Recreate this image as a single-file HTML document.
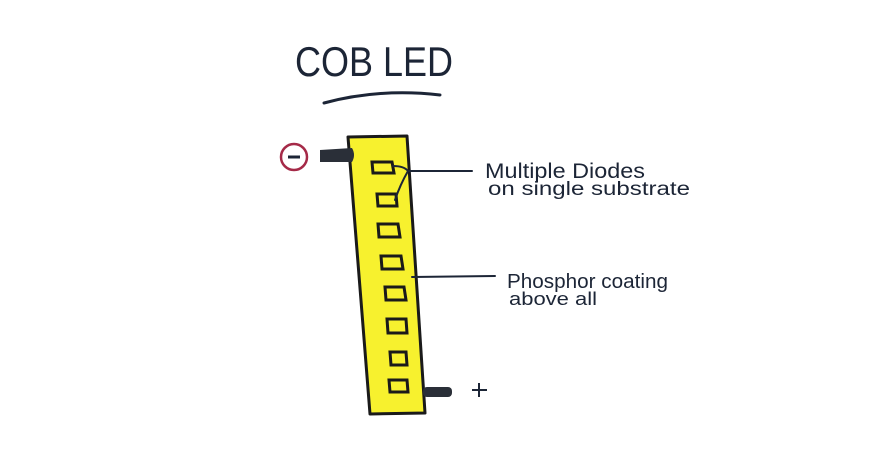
<!DOCTYPE html>
<html><head><style>
html,body{margin:0;padding:0;background:#fff;width:870px;height:473px;overflow:hidden}
svg text{font-family:"Liberation Sans",sans-serif;fill:#1c2536}
</style></head><body>
<svg width="870" height="473" viewBox="0 0 870 473">
<text x="295" y="76" font-size="42" textLength="158" lengthAdjust="spacingAndGlyphs">COB LED</text>
<path d="M324 103 Q380 88 440 95" stroke="#1c2536" stroke-width="3" fill="none" stroke-linecap="round"/>
<polygon points="348,137 407,136 425,413 370,414" fill="#f7f12e" stroke="#1a1a1a" stroke-width="3" stroke-linejoin="round"/>
<g fill="none" stroke="#1a1a1a" stroke-width="3">
<polygon points="372,162 392,162 394,173 373,173"/>
<polygon points="377,194 396,194 397,206 378,206"/>
<polygon points="378,224 398,224 400,237 379,237"/>
<polygon points="381,256 401,256 403,269 382,269"/>
<polygon points="385,287 404,287 406,300 386,300"/>
<polygon points="387,319 406,319 407,333 388,333"/>
<polygon points="390,352 406,352 407,365 391,365"/>
<polygon points="389,380 407,380 408,392 390,392"/>
</g>
<g stroke="#1c2536" stroke-width="2" fill="none" stroke-linecap="round">
<path d="M408 171 L472 171"/>
<path d="M393 166 Q404 166 408 171 Q400 185 395 200"/>
<path d="M412 277 L495 276"/>
</g>
<path d="M320 150 L352 148 Q356 155 352 162 L320 162 Z" fill="#2a2f38"/>
<rect x="423" y="387" width="29" height="10" rx="4" fill="#2a2f38"/>
<circle cx="294" cy="157" r="13" fill="none" stroke="#a52a48" stroke-width="2.5"/>
<path d="M288 157 L300 157" stroke="#1c2536" stroke-width="3"/>
<path d="M472 390 L487 390 M479 383 L479 397" stroke="#1c2536" stroke-width="2"/>
<text x="485" y="178" font-size="21" textLength="160" lengthAdjust="spacingAndGlyphs">Multiple Diodes</text>
<text x="488" y="195" font-size="19" textLength="202" lengthAdjust="spacingAndGlyphs">on single substrate</text>
<text x="507" y="288" font-size="20" textLength="161" lengthAdjust="spacingAndGlyphs">Phosphor coating</text>
<text x="509" y="305" font-size="18" textLength="88" lengthAdjust="spacingAndGlyphs">above all</text>
</svg>
</body></html>
